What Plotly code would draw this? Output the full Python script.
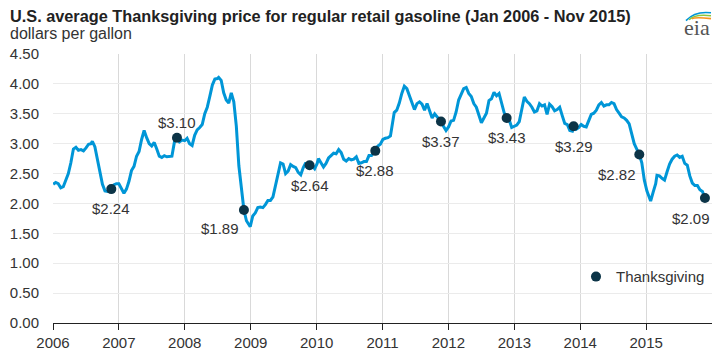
import plotly.graph_objects as go

# Weekly-ish U.S. regular retail gasoline price readings (dollars per gallon)
dates = [
    "2006-01-02","2006-01-16","2006-01-30","2006-02-13","2006-02-27","2006-03-13","2006-03-27","2006-04-10","2006-04-24","2006-05-08","2006-05-22","2006-06-05","2006-06-19","2006-07-03","2006-07-17","2006-07-31","2006-08-07","2006-08-21","2006-09-04","2006-09-18","2006-10-02","2006-10-16","2006-10-30","2006-11-13","2006-11-20","2006-12-04","2006-12-18",
    "2007-01-01","2007-01-15","2007-01-29","2007-02-12","2007-02-26","2007-03-12","2007-03-26","2007-04-09","2007-04-23","2007-05-07","2007-05-21","2007-06-04","2007-06-18","2007-07-02","2007-07-16","2007-07-30","2007-08-13","2007-08-27","2007-09-10","2007-09-24","2007-10-08","2007-10-22","2007-11-05","2007-11-19","2007-12-03","2007-12-17",
    "2008-01-01","2008-01-14","2008-01-28","2008-02-11","2008-02-25","2008-03-10","2008-03-24","2008-04-07","2008-04-21","2008-05-05","2008-05-19","2008-06-02","2008-06-16","2008-06-30","2008-07-07","2008-07-21","2008-08-04","2008-08-18","2008-09-01","2008-09-15","2008-09-29","2008-10-13","2008-10-27","2008-11-10","2008-11-24","2008-12-08","2008-12-29",
    "2009-01-12","2009-01-26","2009-02-09","2009-02-23","2009-03-09","2009-03-23","2009-04-06","2009-04-20","2009-05-04","2009-05-18","2009-06-01","2009-06-15","2009-06-29","2009-07-13","2009-07-27","2009-08-10","2009-08-24","2009-09-07","2009-09-21","2009-10-05","2009-10-19","2009-11-02","2009-11-16","2009-11-23","2009-12-07","2009-12-21",
    "2010-01-04","2010-01-11","2010-01-25","2010-02-08","2010-02-22","2010-03-08","2010-03-22","2010-04-05","2010-04-19","2010-05-03","2010-05-17","2010-05-31","2010-06-14","2010-06-28","2010-07-12","2010-07-26","2010-08-09","2010-08-23","2010-09-06","2010-09-20","2010-10-04","2010-10-18","2010-11-01","2010-11-15","2010-11-22","2010-12-06","2010-12-20",
    "2011-01-03","2011-01-17","2011-01-31","2011-02-14","2011-02-28","2011-03-07","2011-03-21","2011-04-04","2011-04-18","2011-05-02","2011-05-16","2011-05-30","2011-06-13","2011-06-27","2011-07-11","2011-07-25","2011-08-08","2011-08-22","2011-09-05","2011-09-19","2011-10-03","2011-10-17","2011-10-31","2011-11-14","2011-11-21","2011-12-05","2011-12-19",
    "2012-01-02","2012-01-16","2012-01-30","2012-02-13","2012-02-27","2012-03-12","2012-03-26","2012-04-09","2012-04-23","2012-05-07","2012-05-21","2012-06-04","2012-06-18","2012-07-02","2012-07-16","2012-07-30","2012-08-13","2012-08-27","2012-09-10","2012-09-24","2012-10-08","2012-10-22","2012-11-05","2012-11-19","2012-12-03","2012-12-17","2012-12-31",
    "2013-01-14","2013-01-28","2013-02-11","2013-02-25","2013-03-11","2013-03-25","2013-04-08","2013-04-22","2013-05-06","2013-05-20","2013-06-03","2013-06-17","2013-07-01","2013-07-15","2013-07-29","2013-08-12","2013-08-26","2013-09-09","2013-09-23","2013-10-07","2013-10-21","2013-11-04","2013-11-18","2013-11-25","2013-12-09","2013-12-23",
    "2014-01-06","2014-01-20","2014-02-03","2014-02-17","2014-03-03","2014-03-17","2014-03-31","2014-04-14","2014-04-28","2014-05-12","2014-05-26","2014-06-09","2014-06-23","2014-07-07","2014-07-21","2014-08-04","2014-08-18","2014-09-01","2014-09-15","2014-09-29","2014-10-13","2014-10-27","2014-11-10","2014-11-24","2014-12-08","2014-12-22",
    "2015-01-05","2015-01-19","2015-01-26","2015-02-09","2015-02-23","2015-03-02","2015-03-16","2015-03-30","2015-04-13","2015-04-27","2015-05-11","2015-05-25","2015-06-08","2015-06-22","2015-07-06","2015-07-20","2015-08-03","2015-08-17","2015-08-31","2015-09-14","2015-09-28","2015-10-12","2015-10-26","2015-11-09","2015-11-23",
]
prices = [
    2.32,2.35,2.33,2.26,2.28,2.41,2.50,2.68,2.91,2.94,2.89,2.90,2.88,2.93,2.99,3.00,3.04,2.95,2.75,2.52,2.32,2.21,2.20,2.22,2.24,2.31,2.33,
    2.33,2.24,2.17,2.24,2.37,2.55,2.62,2.79,2.87,3.07,3.22,3.10,3.00,2.96,3.02,2.91,2.79,2.77,2.80,2.78,2.78,2.79,3.03,3.10,3.03,3.06,
    3.05,3.09,3.00,2.97,3.14,3.23,3.27,3.32,3.50,3.61,3.79,3.98,4.08,4.09,4.11,4.06,3.85,3.73,3.68,3.85,3.70,3.29,2.63,2.22,1.89,1.71,1.61,
    1.79,1.84,1.93,1.94,1.93,1.98,2.05,2.05,2.11,2.30,2.51,2.68,2.66,2.50,2.54,2.65,2.62,2.60,2.52,2.48,2.60,2.68,2.61,2.64,2.63,2.58,
    2.67,2.75,2.68,2.61,2.67,2.76,2.80,2.84,2.83,2.90,2.85,2.74,2.71,2.75,2.73,2.74,2.78,2.67,2.68,2.70,2.70,2.80,2.80,2.86,2.88,2.96,2.99,
    3.07,3.09,3.10,3.13,3.38,3.52,3.56,3.68,3.84,3.96,3.92,3.79,3.68,3.57,3.67,3.70,3.66,3.56,3.67,3.56,3.43,3.50,3.45,3.41,3.37,3.29,3.22,
    3.28,3.38,3.39,3.53,3.73,3.83,3.92,3.94,3.84,3.79,3.67,3.61,3.47,3.35,3.43,3.51,3.72,3.75,3.86,3.80,3.84,3.69,3.52,3.43,3.40,3.27,3.29,
    3.31,3.37,3.61,3.78,3.71,3.67,3.61,3.53,3.55,3.67,3.63,3.65,3.49,3.66,3.62,3.55,3.57,3.61,3.47,3.34,3.32,3.22,3.21,3.29,3.24,3.27,
    3.32,3.29,3.28,3.38,3.49,3.51,3.56,3.65,3.69,3.63,3.65,3.65,3.69,3.67,3.57,3.51,3.45,3.43,3.39,3.33,3.15,3.00,2.91,2.82,2.68,2.39,
    2.21,2.07,2.04,2.19,2.33,2.47,2.46,2.42,2.39,2.53,2.66,2.74,2.79,2.81,2.77,2.79,2.67,2.64,2.46,2.34,2.30,2.30,2.23,2.20,2.09,
]

# Thanksgiving readings
tg_dates = ["2006-11-20","2007-11-19","2008-11-24","2009-11-23","2010-11-22",
            "2011-11-21","2012-11-19","2013-11-25","2014-11-24","2015-11-23"]
tg_prices = [2.24, 3.10, 1.89, 2.64, 2.88, 3.37, 3.43, 3.29, 2.82, 2.09]
tg_labels = ["$2.24","$3.10","$1.89","$2.64","$2.88","$3.37","$3.43","$3.29","$2.82","$2.09"]

year_ticks = ["2006-01-01","2007-01-01","2008-01-01","2009-01-01","2010-01-01",
              "2011-01-01","2012-01-01","2013-01-01","2014-01-01","2015-01-01"]
year_labels = ["2006","2007","2008","2009","2010","2011","2012","2013","2014","2015"]

# label offsets (pixels) relative to each Thanksgiving dot
lbl_dx = [0, 0, -24, 0, 0, 0, 0, 0, -22, -14]
lbl_dy = [-19, 15, -18, -20, -20, -20, -20, -20, -20, -20]

FONT = "Liberation Sans, Arial, sans-serif"
TXT = "#333333"

# page has an 8px body margin: figure spans page x 8..712, y 8..351 (no scrolling)
W, H = 704, 343
ML, MR, MT, MB = 45, 0, 46, 23
PW, PH = W - ML - MR, H - MT - MB


def px(xp):  # page x -> paper x
    return (xp - 8 - ML) / PW


def py(yp):  # page y -> paper y
    return 1 + (MT - (yp - 8)) / PH


fig = go.Figure()
fig.add_trace(go.Scatter(
    x=dates, y=prices, mode="lines",
    line=dict(color="#0096d7", width=3), showlegend=False, hoverinfo="skip"))
fig.add_trace(go.Scatter(
    x=tg_dates, y=tg_prices, mode="markers", name="Thanksgiving",
    marker=dict(color="#0c3447", size=10, line=dict(color="#0c3447", width=0))))

for d, v, t, dx, dy in zip(tg_dates, tg_prices, tg_labels, lbl_dx, lbl_dy):
    fig.add_annotation(x=d, y=v, text=t, showarrow=False, xshift=dx, yshift=dy,
                       font=dict(family=FONT, size=15, color=TXT))

fig.add_annotation(xref="paper", yref="paper", x=px(8), y=py(4), xanchor="left", yanchor="top",
                   text="<b>U.S. average Thanksgiving price for regular retail gasoline (Jan 2006 - Nov 2015)</b>",
                   showarrow=False, font=dict(family=FONT, size=16.3, color="#222222"))
fig.add_annotation(xref="paper", yref="paper", x=px(8), y=py(33), xanchor="left", yanchor="middle",
                   text="dollars per gallon", showarrow=False,
                   font=dict(family=FONT, size=16, color=TXT))
fig.add_annotation(xref="paper", yref="paper", x=px(712), y=py(27), xanchor="right", yanchor="middle",
                   text="eia", showarrow=False,
                   font=dict(family="Liberation Serif, serif", size=22, color="#555555"))
# logo swoosh arcs
for col, off in [("#0096d7", 0), ("#8cc63f", 3), ("#f7941d", 6)]:
    fig.add_shape(type="path", xref="paper", yref="paper",
                  path=f"M {px(686 + off)} {py(20 - off * 0.3)} Q {px(695)} {py(10 + off)} {px(711)} {py(12 + off)}",
                  line=dict(color=col, width=1.6))

fig.update_layout(
    width=W, height=H,
    margin=dict(l=ML, r=MR, t=MT, b=MB),
    paper_bgcolor="white", plot_bgcolor="white",
    font=dict(family=FONT, size=15, color=TXT),
    showlegend=True,
    legend=dict(x=px(710), y=py(281), xanchor="right", yanchor="middle",
                bgcolor="rgba(0,0,0,0)", font=dict(family=FONT, size=15, color=TXT)),
    xaxis=dict(range=["2006-01-01", "2016-01-01"], tickmode="array",
               tickvals=year_ticks, ticktext=year_labels,
               showgrid=True, gridcolor="#d9d9d9", gridwidth=1,
               showline=True, linecolor="#222222", linewidth=1,
               ticks="outside", ticklen=6, tickcolor="#222222",
               tickfont=dict(family=FONT, size=15, color=TXT), zeroline=False),
    yaxis=dict(range=[0, 4.5], tickmode="array",
               tickvals=[0, 0.5, 1, 1.5, 2, 2.5, 3, 3.5, 4, 4.5],
               ticktext=["0.00","0.50","1.00","1.50","2.00","2.50","3.00","3.50","4.00","4.50"],
               showgrid=True, gridcolor="#ebebeb", gridwidth=1, zeroline=False,
               showline=False, ticks="", ticklabelstandoff=13,
               tickfont=dict(family=FONT, size=15, color=TXT)),
)
fig.write_html("out.html")
